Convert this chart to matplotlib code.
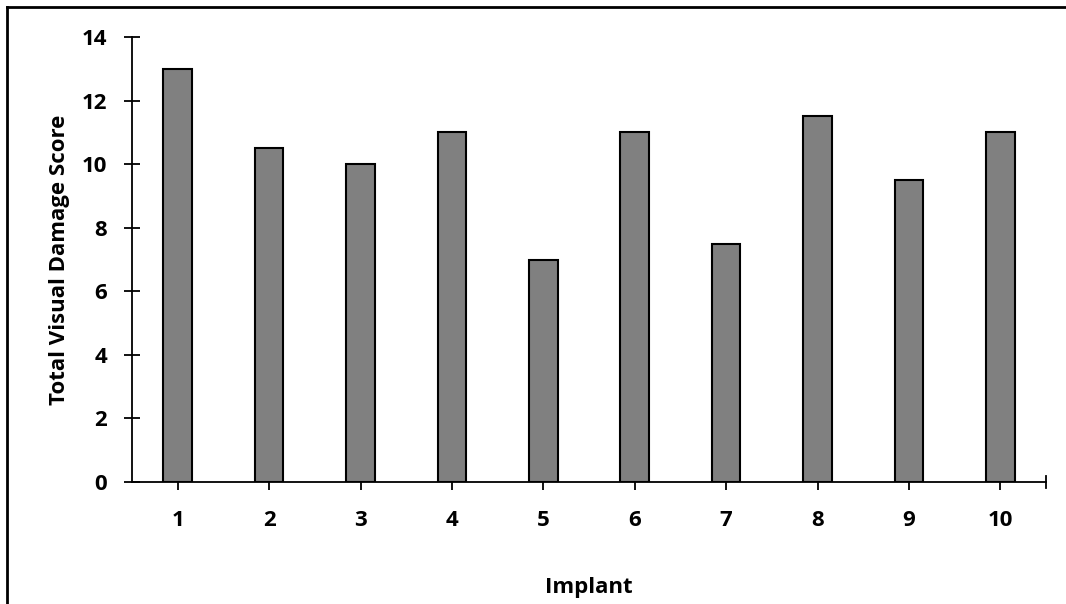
import numpy as np
import matplotlib.pyplot as plt
from matplotlib.lines import Line2D

implants = [1, 2, 3, 4, 5, 6, 7, 8, 9, 10]
scores = [13, 10.5, 10, 11, 7, 11, 7.5, 11.5, 9.5, 11]

plt.rcParams['font.family'] = ['Open Sans', 'DejaVu Sans']

fig = plt.figure(figsize=(10.66, 6.04), dpi=100)
W, H = 1066, 604
ax = fig.add_axes([132 / W, 1 - 482 / H, (1046 - 132) / W, (482 - 37) / H])

ax.bar(implants, scores, width=0.315, color='#808080', edgecolor='black', linewidth=1.5, zorder=2)

ax.set_xlim(0.5, 10.5)
ax.set_ylim(0, 14)
ax.set_xticks(implants)
ax.set_yticks(np.arange(0, 15, 2))
ax.tick_params(axis='both', direction='inout', length=12, width=1.3, labelsize=16)
ax.tick_params(axis='x', pad=14)
ax.tick_params(axis='y', pad=12)
for lab in ax.get_xticklabels() + ax.get_yticklabels():
    lab.set_fontweight('bold')

for side in ['top', 'right']:
    ax.spines[side].set_visible(False)
for side in ['left', 'bottom']:
    ax.spines[side].set_linewidth(1.3)

# end tick at the right end of the category axis
ax.add_line(Line2D([1, 1], [-0.0135, 0.0135], transform=ax.transAxes, color='black',
                   linewidth=1.3, clip_on=False))

ax.set_xlabel('Implant', fontsize=16, fontweight='bold', labelpad=33)
ax.set_ylabel('Total Visual Damage Score', fontsize=16, fontweight='bold', labelpad=8)

# partial outer border (top and left)
fig.add_artist(Line2D([6.5 / W, 6.5 / W], [0, 1 - 6.5 / H], transform=fig.transFigure,
                      color='black', linewidth=2))
fig.add_artist(Line2D([6.5 / W, 1], [1 - 6.5 / H, 1 - 6.5 / H], transform=fig.transFigure,
                      color='black', linewidth=2))

plt.savefig('out.png', dpi=100)
